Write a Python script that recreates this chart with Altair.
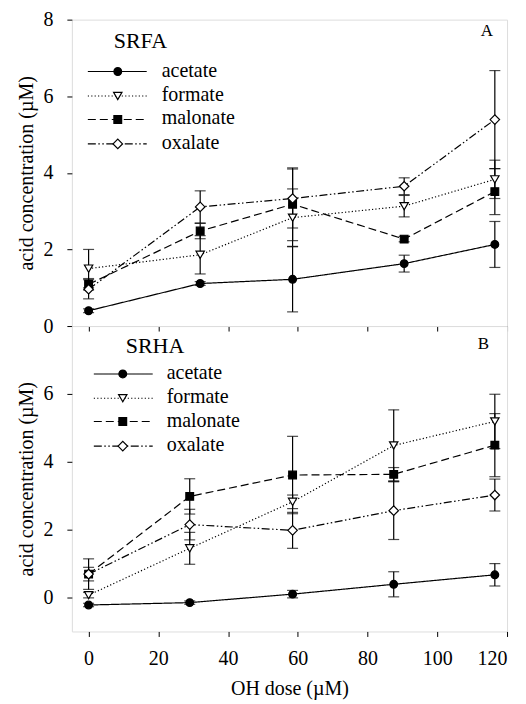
import altair as alt
import pandas as pd

series = ["acetate", "formate", "malonate", "oxalate"]

# Panel A (SRFA)
xA = [0, 32, 58.5, 90.5, 116.5]
A_acetate = [0.40, 1.11, 1.22, 1.63, 2.13]
A_acetate_err = [0.05, 0.05, 0.85, 0.22, 0.60]
A_formate = [1.50, 1.86, 2.83, 3.13, 3.83]
A_formate_err = [0.50, 0.50, 0.75, 0.28, 0.50]
A_malonate = [1.09, 2.48, 3.18, 2.27, 3.51]
A_malonate_err = [0.15, 0.20, 0.95, 0.07, 0.60]
A_oxalate = [0.96, 3.11, 3.33, 3.65, 5.39]
A_oxalate_err = [0.25, 0.42, 0.77, 0.22, 1.28]

# Panel B (SRHA)
xB = [0, 29, 58.5, 87.5, 116.5]
B_acetate = [-0.22, -0.15, 0.10, 0.39, 0.67]
B_acetate_err = [0.05, 0.05, 0.11, 0.37, 0.33]
B_formate = [0.07, 1.45, 2.82, 4.48, 5.19]
B_formate_err = [0.08, 0.47, 0.20, 1.05, 0.80]
B_malonate = [0.69, 2.98, 3.61, 3.63, 4.49]
B_malonate_err = [0.45, 0.52, 1.14, 0.20, 0.93]
B_oxalate = [0.69, 2.15, 1.98, 2.56, 3.02]
B_oxalate_err = [0.20, 0.45, 0.53, 0.85, 0.47]

x_ticks = [0, 20, 40, 60, 80, 100, 120]

FONT = "Liberation Serif"

styles = {
    "acetate": dict(dash=[1, 0], shape="circle", filled=True, size=60),
    "formate": dict(dash=[1.2, 2.2], shape="triangle-down", filled=False, size=70),
    "malonate": dict(dash=[8, 4], shape="square", filled=True, size=60),
    "oxalate": dict(dash=[8, 2.5, 1.5, 2.5, 1.5, 2.5], shape="diamond", filled=False, size=90),
}


def make_df(xs, vals, errs):
    rows = []
    for s in series:
        for xv, yv, ev in zip(xs, vals[s], errs[s]):
            rows.append({"series": s, "x": xv, "y": yv, "lo": yv - ev, "hi": yv + ev})
    return pd.DataFrame(rows)


dfA = make_df(
    xA,
    {"acetate": A_acetate, "formate": A_formate, "malonate": A_malonate, "oxalate": A_oxalate},
    {"acetate": A_acetate_err, "formate": A_formate_err, "malonate": A_malonate_err, "oxalate": A_oxalate_err},
)
dfB = make_df(
    xB,
    {"acetate": B_acetate, "formate": B_formate, "malonate": B_malonate, "oxalate": B_oxalate},
    {"acetate": B_acetate_err, "formate": B_formate_err, "malonate": B_malonate_err, "oxalate": B_oxalate_err},
)

one = pd.DataFrame({"k": [0]})


def panel(df, ydom, yvals, show_xlabels, title, letter, leg, H):
    xs = alt.Scale(domain=[-4.8, 120], nice=False, zero=False)
    ys = alt.Scale(domain=ydom, nice=False, zero=False)
    xaxis = alt.Axis(
        values=x_ticks, labels=show_xlabels, ticks=True, tickSize=5, grid=False,
        title="OH dose (µM)" if show_xlabels else None, labelFontSize=20, titleFontSize=20,
        labelPadding=12, titlePadding=10, domain=False, tickColor="black", labelColor="black",
        labelFont=FONT, titleFont=FONT, titleFontWeight="normal", titleColor="black",
        labelFontWeight="normal",
    )
    yaxis = alt.Axis(
        values=yvals, tickSize=5, grid=False, title="acid concentration (µM)",
        labelFontSize=20, titleFontSize=20, labelPadding=14, titlePadding=6, domain=False,
        tickColor="black", labelColor="black", labelFont=FONT, titleFont=FONT,
        titleFontWeight="normal", titleColor="black", labelFontWeight="normal",
    )
    X = alt.X("x:Q", scale=xs, axis=xaxis)
    Y = alt.Y("y:Q", scale=ys, axis=yaxis)
    layers = []
    for s in series:
        st = styles[s]
        d = df[df.series == s]
        layers.append(
            alt.Chart(d).mark_line(color="black", strokeWidth=1.2, strokeDash=st["dash"]).encode(x=X, y=Y)
        )
    for s in series:
        d = df[df.series == s]
        base = alt.Chart(d)
        layers.append(base.mark_rule(color="black", strokeWidth=1.2).encode(
            x=alt.X("x:Q", scale=xs), y=alt.Y("lo:Q", scale=ys), y2="hi:Q"))
        layers.append(base.mark_tick(color="black", orient="horizontal", size=11, thickness=1.2).encode(
            x=alt.X("x:Q", scale=xs), y=alt.Y("lo:Q", scale=ys)))
        layers.append(base.mark_tick(color="black", orient="horizontal", size=11, thickness=1.2).encode(
            x=alt.X("x:Q", scale=xs), y=alt.Y("hi:Q", scale=ys)))
    for s in series:
        st = styles[s]
        d = df[df.series == s]
        layers.append(
            alt.Chart(d).mark_point(
                shape=st["shape"], filled=True, size=st["size"],
                fill="black" if st["filled"] else "white", stroke="black", strokeWidth=1.2, opacity=1,
            ).encode(x=X, y=Y)
        )
    # legend
    lx0, lx1, mx, tx, rows, tty = leg
    for s, ry in zip(series, rows):
        st = styles[s]
        layers.append(
            alt.Chart(one).mark_rule(color="black", strokeWidth=1.1, strokeDash=st["dash"]).encode(
                x=alt.value(lx0), x2=alt.value(lx1), y=alt.value(ry))
        )
        layers.append(
            alt.Chart(one).mark_point(
                shape=st["shape"], filled=True, size=st["size"],
                fill="black" if st["filled"] else "white", stroke="black", strokeWidth=1.2, opacity=1,
            ).encode(x=alt.value(mx), y=alt.value(ry))
        )
        layers.append(
            alt.Chart(one).mark_text(text=s, align="left", baseline="middle", font=FONT, fontSize=20,
                                     fontWeight="normal", color="black").encode(
                x=alt.value(tx), y=alt.value(ry - 1))
        )
    layers.append(
        alt.Chart(one).mark_text(text=title, align="left", baseline="alphabetic", font=FONT, fontSize=22,
                                 fontWeight="normal", color="black").encode(
            x=alt.value(tty[0]), y=alt.value(tty[1]))
    )
    layers.append(
        alt.Chart(one).mark_text(text=letter, align="right", baseline="alphabetic", font=FONT, fontSize=17,
                                 fontWeight="normal", color="black").encode(
            x=alt.value(tty[2]), y=alt.value(tty[3]))
    )
    return alt.layer(*layers).properties(width=436, height=H)


pA = panel(dfA, [0, 8], [0, 2, 4, 6, 8], False, "SRFA", "A",
           (16, 75, 46, 90, [52, 76.5, 100, 124.5], (42, 28.3, 422, 16.7)), 307)
pB = panel(dfB, [-1, 8], [0, 2, 4, 6], True, "SRHA", "B",
           (22, 81, 51, 95, [48, 72.3, 95.7, 120.3], (54, 27.3, 418, 23)), 306)

chart = alt.vconcat(pA, pB, spacing=0, bounds="flush").configure_view(
    stroke="black", strokeWidth=1.3
).configure(background="white", padding={"left": 16, "top": 8, "right": 18, "bottom": 0})

chart.save("out.html", embed_options={"renderer": "svg", "actions": False})
